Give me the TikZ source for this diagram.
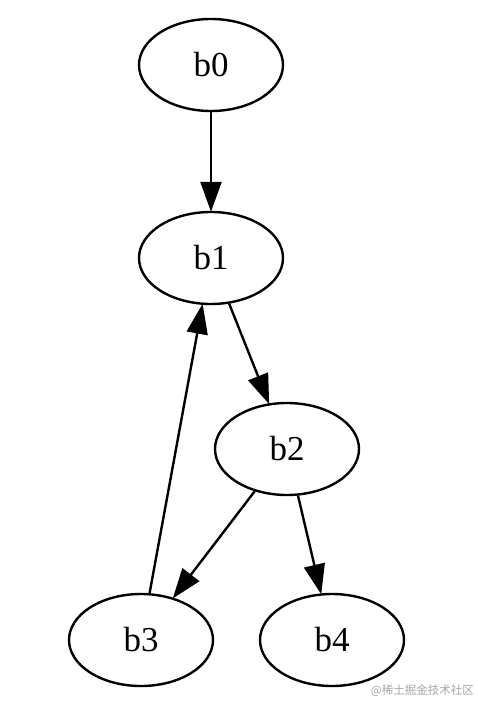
\documentclass[tikz,border=0pt]{standalone}
\usepackage{fontspec}
\setmainfont{Liberation Serif}
\newfontfamily\cjk{Noto Sans CJK SC}
\usetikzlibrary{shapes.geometric,arrows.meta}
\tikzset{
  blk/.style={ellipse,draw,line width=2.4pt,minimum width=144pt,minimum height=92pt,inner sep=0pt,font=\fontsize{35}{40}\selectfont},
  edge/.style={line width=2.4pt,-{Triangle[length=30pt,width=21pt]},shorten >=-1pt}
}
\begin{document}
\begin{tikzpicture}[x=1pt,y=-1pt]
\useasboundingbox[fill=white] (0,0) rectangle (478,714);
\node[blk] (b0) at (211,65) {b0};
\node[blk] (b1) at (211,258) {b1};
\node[blk] (b2) at (287,449) {b2};
\node[blk] (b3) at (141,640) {b3};
\node[blk] (b4) at (332,640) {b4};
\draw[edge] (b0) -- (b1);
\draw[edge] (b1) -- (b2);
\draw[edge] (b3) -- (b1);
\draw[edge] (b2) -- (b3);
\draw[edge] (b2) -- (b4);
\node[font=\cjk\fontsize{11.5}{13}\selectfont,text=black!35,anchor=east,inner sep=0pt] (wm) at (474,691) {@稀土掘金技术社区};
\end{tikzpicture}
\end{document}
